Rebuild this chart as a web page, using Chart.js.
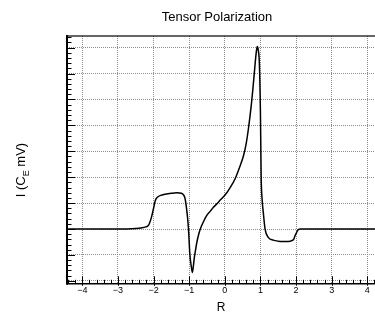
<!DOCTYPE html>
<html><head><meta charset="utf-8">
<script src="https://cdn.jsdelivr.net/npm/chart.js@4"></script>
<style>html,body{margin:0;padding:0;background:#fff;overflow:hidden}#wrap{width:375px;height:315px;position:relative}</style>
</head><body><div id="wrap"><canvas id="c" width="375" height="315"></canvas></div>
<script>
const chartTitle = 'Tensor Polarization';
const xAxisTitle = 'R';
const yAxisTitleParts = ['I (C', 'E', ' mV)'];
const xTickValues = [-4, -3, -2, -1, 0, 1, 2, 3, 4];
const rValues = [-4.43, -3.0, -2.5, -2.35, -2.22, -2.14, -2.06, -2.0, -1.95, -1.9, -1.8, -1.68, -1.5, -1.35, -1.22, -1.16, -1.12, -1.09, -1.05, -1.02, -0.98, -0.94, -0.91, -0.88, -0.86, -0.82, -0.79, -0.75, -0.70, -0.6, -0.51, -0.4, -0.32, -0.2, -0.13, 0.0, 0.15, 0.29, 0.42, 0.52, 0.6, 0.66, 0.75, 0.82, 0.88, 0.91, 0.94, 0.97, 1.0, 1.02, 1.05, 1.08, 1.13, 1.22, 1.36, 1.5, 1.64, 1.78, 1.88, 1.94, 1.97, 2.02, 2.06, 2.12, 2.2, 3.0, 4.3];
const iValues = [2.0, 2.0, 2.02, 2.04, 2.08, 2.15, 2.45, 2.8, 3.1, 3.22, 3.3, 3.34, 3.38, 3.40, 3.38, 3.32, 3.2, 2.96, 2.5, 2.0, 1.0, 0.55, 0.32, 0.6, 0.85, 1.2, 1.45, 1.7, 1.95, 2.28, 2.52, 2.7, 2.84, 3.0, 3.12, 3.3, 3.6, 3.94, 4.4, 4.81, 5.3, 5.84, 6.87, 7.89, 8.79, 9.04, 8.9, 8.4, 6.48, 4.05, 3.1, 2.64, 2.0, 1.68, 1.57, 1.53, 1.52, 1.52, 1.55, 1.62, 1.74, 1.88, 1.97, 2.0, 2.0, 2.0, 2.0];
const xRange = [-4.43, 4.216];
const yRange = [-0.115, 9.45];

const FONT = '"Liberation Sans", Arial, Helvetica, sans-serif';
const gridColor = '#8c8c8c';

const framePlugin = {
  id: 'frame',
  afterDraw(chart) {
    const {ctx, chartArea: a, scales: {x, y}} = chart;
    ctx.save();
    ctx.strokeStyle = 'rgba(0,0,0,0.6)';
    ctx.lineWidth = 2;
    ctx.beginPath(); ctx.moveTo(a.left, a.top); ctx.lineTo(a.right, a.top); ctx.stroke();
    ctx.strokeStyle = '#000';
    ctx.lineWidth = 2;
    ctx.beginPath(); ctx.moveTo(a.left, a.top - 1); ctx.lineTo(a.left, a.bottom + 1); ctx.stroke();
    ctx.lineWidth = 1.5;
    ctx.beginPath(); ctx.moveTo(a.left, a.bottom); ctx.lineTo(a.right, a.bottom); ctx.stroke();
    ctx.lineWidth = 1;
    ctx.beginPath();
    for (let k = Math.ceil(y.min * 5); k <= Math.floor(y.max * 5); k++) {
      const py = Math.round(y.getPixelForValue(k / 5)) + 0.5;
      const len = (k % 5 === 0) ? 8 : 4.5;
      ctx.moveTo(a.left, py); ctx.lineTo(a.left + len, py);
    }
    for (let k = Math.ceil(x.min * 5); k <= Math.floor(x.max * 5); k++) {
      const px = Math.round(x.getPixelForValue(k / 5)) + 0.5;
      const len = (k % 5 === 0) ? 7.5 : 4;
      ctx.moveTo(px, a.bottom + ((k % 5 === 0) ? 2 : 0)); ctx.lineTo(px, a.bottom - len);
    }
    ctx.stroke();
    ctx.fillStyle = '#000';
    ctx.font = '13px ' + FONT;
    ctx.textAlign = 'center';
    ctx.textBaseline = 'middle';
    ctx.fillText(chartTitle, 217, 17);
    ctx.translate(20, 170);
    ctx.rotate(-Math.PI / 2);
    const mainFont = '13px ' + FONT, subFont = '9px ' + FONT;
    ctx.font = mainFont; const w0 = ctx.measureText(yAxisTitleParts[0]).width;
    ctx.font = subFont; const w1 = ctx.measureText(yAxisTitleParts[1]).width;
    ctx.font = mainFont; const w2 = ctx.measureText(yAxisTitleParts[2]).width;
    let sx = -(w0 + w1 + w2) / 2;
    ctx.textAlign = 'left';
    ctx.textBaseline = 'alphabetic';
    ctx.font = mainFont; ctx.fillText(yAxisTitleParts[0], sx, 4.5); sx += w0;
    ctx.font = subFont; ctx.fillText(yAxisTitleParts[1], sx, 8.5); sx += w1;
    ctx.font = mainFont; ctx.fillText(yAxisTitleParts[2], sx, 4.5);
    ctx.restore();
  }
};

new Chart(document.getElementById('c'), {
  type: 'line',
  data: {
    datasets: [{
      data: rValues.map((r, i) => ({x: r, y: iValues[i]})),
      borderColor: '#000',
      borderWidth: 1.5,
      pointRadius: 0,
      fill: false,
      cubicInterpolationMode: 'monotone'
    }]
  },
  options: {
    responsive: false,
    animation: false,
    events: [],
    layout: {padding: {left: 67, top: 36, right: 0, bottom: 0}},
    plugins: {legend: {display: false}, tooltip: {enabled: false}, title: {display: false}},
    scales: {
      x: {
        type: 'linear',
        min: xRange[0], max: xRange[1],
        afterBuildTicks: (s) => { s.ticks = xTickValues.map(v => ({value: v})); },
        ticks: {
          includeBounds: false,
          padding: 1,
          color: '#000',
          font: {family: FONT, size: 9},
          callback: (v) => String(v).replace('-', '\u2212')
        },
        grid: {color: gridColor, lineWidth: 1, drawTicks: false},
        border: {display: false, dash: [1, 1]},
        title: {display: true, text: xAxisTitle, color: '#000', font: {family: FONT, size: 12}, padding: {top: 4, bottom: 0}}
      },
      y: {
        type: 'linear',
        min: yRange[0], max: yRange[1],
        ticks: {display: false, stepSize: 1, includeBounds: false},
        grid: {color: gridColor, lineWidth: 1, drawTicks: false},
        border: {display: false, dash: [1, 1]}
      }
    }
  },
  plugins: [framePlugin]
});
</script>
</body></html>
